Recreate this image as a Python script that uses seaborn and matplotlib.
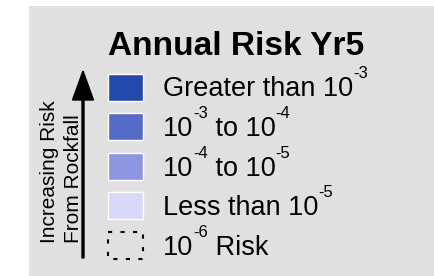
import re
import numpy as np
import matplotlib
matplotlib.use("Agg")
import matplotlib.pyplot as plt
import seaborn as sns
from matplotlib.patches import Rectangle, FancyArrow

# ---- data ----
title = "Annual Risk Yr5"
labels = ["Greater than 10^{-3}", "10^{-3} to 10^{-4}", "10^{-4} to 10^{-5}",
          "Less than 10^{-5}", "10^{-6} Risk"]
colors = ["#2349AB", "#566BC8", "#8F96E0", "#D8D8FA", None]
axis_lines = ["Increasing Risk", "From Rockfall"]

sns.set_theme(style="white")
plt.rcParams["font.family"] = ["Liberation Sans", "DejaVu Sans"]

fig = plt.figure(figsize=(4.35, 2.76), dpi=100)
fig.patch.set_facecolor("white")
ax = fig.add_axes([0, 0, 1, 1])
ax.set_xlim(0, 435)
ax.set_ylim(276, 0)
ax.axis("off")

# grey panel
ax.add_patch(Rectangle((29, 6), 420, 280, facecolor="#E0E0E0", edgecolor="none", zorder=0))

# title
ax.text(108, 55, title, fontsize=24, fontweight="bold", ha="left", va="baseline", color="black")

# swatches
row0, step = 87, 39.6
centers = row0 + step * np.arange(len(labels))
filled = [i for i, c in enumerate(colors) if c]
ax.barh(centers[filled], width=35, left=108, height=27,
        color=[colors[i] for i in filled], zorder=2)
last = len(labels) - 1
ax.add_patch(Rectangle((108.5, centers[last] - 13.5), 34.5, 27, fill=False,
                       edgecolor="black", linestyle=(0, (2, 4)), lw=1.5, zorder=2))

fig.canvas.draw()
renderer = fig.canvas.get_renderer()
inv = ax.transData.inverted()


def rich_text(x, y, s, size=19.5, sup_size=12, raise_px=18):
    parts = re.split(r"\^\{([^}]*)\}", s)
    for k, part in enumerate(parts):
        if not part:
            continue
        sup = k % 2 == 1
        t = ax.text(x, y - (raise_px if sup else 0), part,
                    fontsize=sup_size if sup else size,
                    ha="left", va="baseline", color="black")
        bb = t.get_window_extent(renderer)
        x = inv.transform((bb.x1, bb.y0))[0]


for c, lab in zip(centers, labels):
    rich_text(163, c + 9.5, lab)

# arrow
ax.add_patch(FancyArrow(83, 258, 0, -187, width=2, head_width=21, head_length=29,
                        length_includes_head=True, color="black", zorder=3))

# vertical labels
for xb, line in zip([55, 79], axis_lines):
    ax.text(xb, 243, line, rotation=90, rotation_mode="anchor", ha="left",
            va="baseline", fontsize=15, color="black")

fig.savefig("out.png", dpi=100, facecolor="white")
